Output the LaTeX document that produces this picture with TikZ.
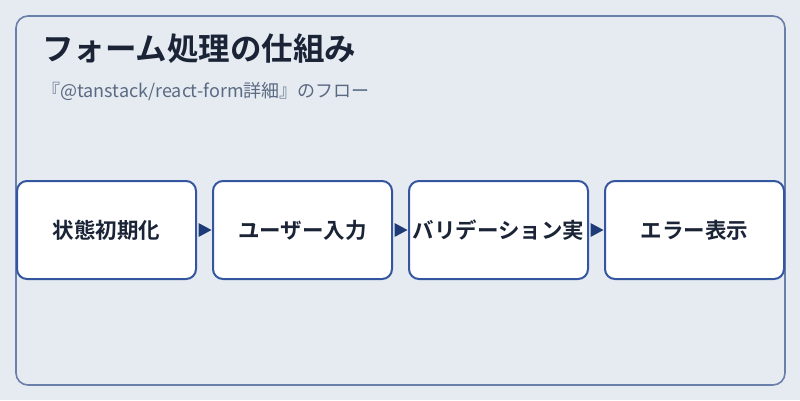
\documentclass[tikz,border=0pt]{standalone}
\usepackage{fontspec}
\setmainfont{Noto Sans CJK JP}
\newfontfamily\jpbold{Noto Sans CJK JP Bold}
\definecolor{bgc}{HTML}{E6EBF1}
\definecolor{framec}{HTML}{6A80AA}
\definecolor{boxc}{HTML}{3456A0}
\definecolor{arrc}{HTML}{1E3A78}
\definecolor{titlec}{HTML}{1A2436}
\definecolor{subc}{HTML}{5A6A82}
\begin{document}
\begin{tikzpicture}[x=1pt,y=-1pt,
  stepbox/.style={draw=boxc,line width=2pt,fill=white,rounded corners=10pt,minimum width=179pt,minimum height=98pt,inner sep=0pt,font=\jpbold\fontsize{21.5}{24}\selectfont,text=titlec},
  tri/.style={fill=arrc}]
\useasboundingbox (0,0) rectangle (800,400);
\fill[bgc] (0,0) rectangle (800,400);
\draw[framec,line width=1.6pt,rounded corners=12pt] (16,16) rectangle (785,385);
\node[anchor=base west,inner sep=0pt,text=titlec,font=\jpbold\fontsize{31.5}{36}\selectfont] (title) at (42,60) {フォーム処理の仕組み};
\node[anchor=base west,inner sep=0pt,text=subc,font=\fontsize{18}{22}\selectfont] (sub) at (42,97) {『@tanstack/react-form詳細』のフロー};
\node[stepbox] (b1) at (106.5,230) {状態初期化};
\node[stepbox] (b2) at (302.5,230) {ユーザー入力};
\node[stepbox] (b3) at (498.5,230) {バリデーション実};
\node[stepbox] (b4) at (694.5,230) {エラー表示};
\foreach \a/\b in {b1/b2,b2/b3,b3/b4}{
  \path (\a.east) -- (\b.west) coordinate[pos=0.5] (m);
  \fill[arrc] ([xshift=-6pt,yshift=-7pt]m) -- ([xshift=7pt]m) -- ([xshift=-6pt,yshift=7pt]m) -- cycle;
}
\end{tikzpicture}
\end{document}
